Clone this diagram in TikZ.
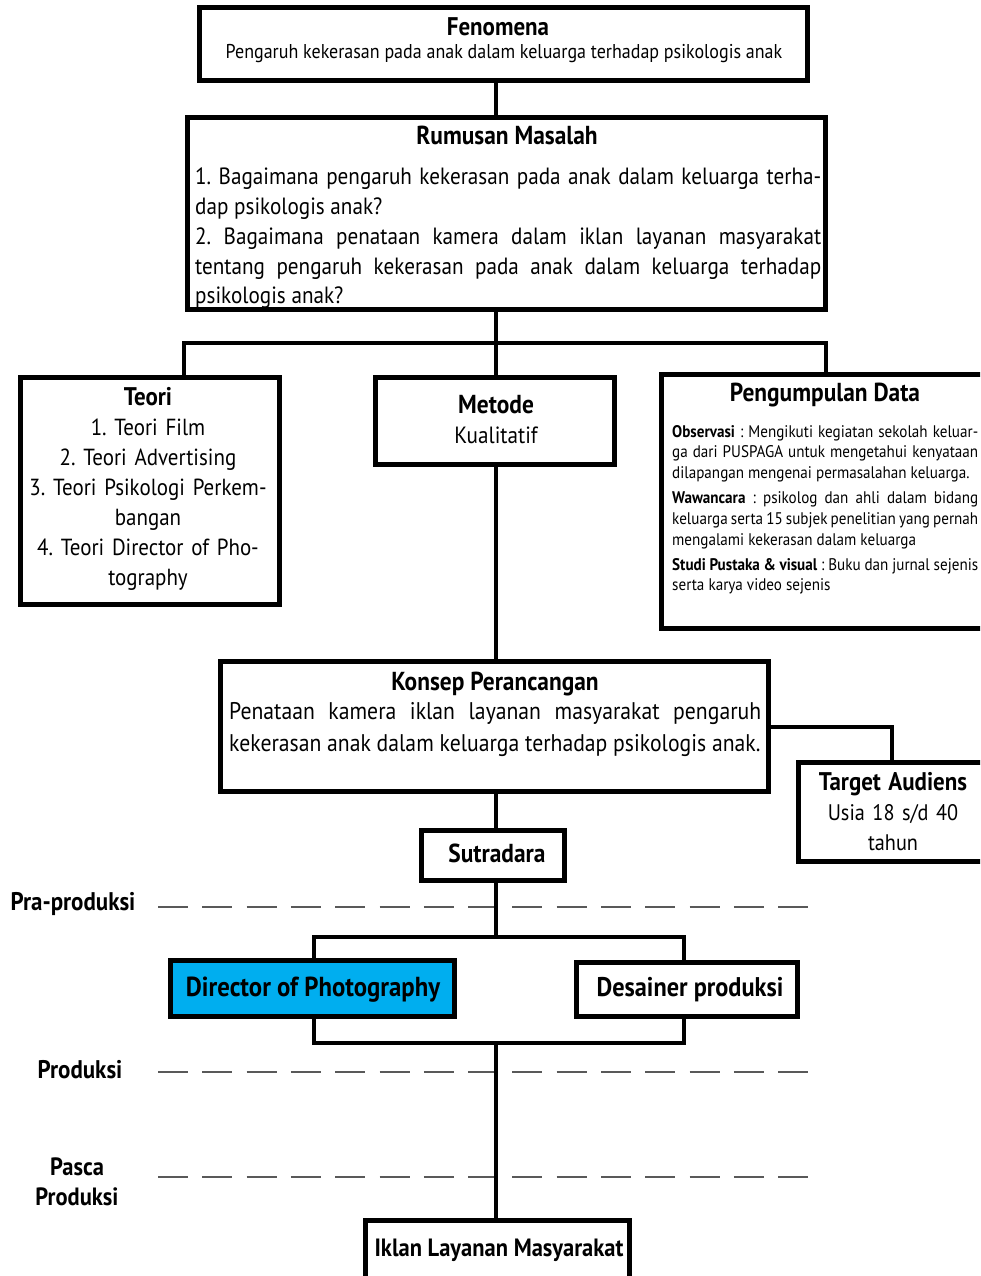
\documentclass[tikz,border=0pt]{standalone}
\usepackage{fontspec}
\setmainfont{PT Sans}[FakeStretch=0.9]
\newcommand\fsz[2]{\fontsize{#1}{#2}\selectfont}
\definecolor{dopblue}{HTML}{00AEEF}
\begin{document}
\frenchspacing
\begin{tikzpicture}[x=1pt,y=-1pt,
  box/.style={draw=black, line width=5pt, fill=white, rectangle, inner sep=0pt},
  conn/.style={line width=4pt, draw=black},
  phase/.style={draw=black!65, line width=2.5pt, dash pattern=on 30pt off 14.3pt},
  txt/.style={inner sep=0pt, anchor=base},
  para/.style={inner sep=0pt, anchor=base west, align=justify},
  ttl/.style={txt, font=\bfseries\fsz{26}{30}},
]
\clip (0,0) rectangle (980,1276);
\hyphenpenalty=10000
\hfuzz=20pt
% phase lines
\draw[phase] (158,907) -- (808,907);
\draw[phase] (158,1072) -- (808,1072);
\draw[phase] (158,1177) -- (808,1177);
\node[txt, font=\bfseries\fsz{25.5}{30}] (lpra) at (73,910) {Pra-produksi};
\node[txt, font=\bfseries\fsz{25.5}{30}] (lprod) at (80,1078) {Produksi};
\node[txt, font=\bfseries\fsz{25}{30}, text width=120pt, align=center] (lpasca) at (77,1175) {Pasca\\Produksi};

% boxes
\node[box, minimum width=608pt, minimum height=73pt] (fen) at (503.5,44) {};
\node[box, minimum width=638pt, minimum height=192pt] (rum) at (506.5,213.5) {};
\node[box, minimum width=259pt, minimum height=227pt] (teori) at (150,491) {};
\node[box, minimum width=239pt, minimum height=87pt] (metode) at (495,421) {};
\node[box, minimum width=334pt, minimum height=254pt] (peng) at (828.5,501.5) {};
\node[box, minimum width=548pt, minimum height=130pt] (konsep) at (494.5,726.5) {};
\node[box, minimum width=197pt, minimum height=99pt] (target) at (897,812) {};
\node[box, minimum width=143pt, minimum height=50pt] (sutradara) at (493,855.5) {};
\node[box, fill=dopblue, minimum width=284pt, minimum height=56pt] (dop) at (312.5,988.5) {};
\node[box, minimum width=221pt, minimum height=54pt] (des) at (687,989.5) {};
\node[box, minimum width=264pt, minimum height=69pt] (iklan) at (497.5,1255) {};

% connector coordinates
\coordinate (sp) at (496,0);
\coordinate (tx) at (184,0);
\coordinate (px) at (826,0);
\coordinate (tgx) at (892,0);
\coordinate (dx) at (314,0);
\coordinate (ex) at (684,0);
\coordinate (bar) at (496,343);
\coordinate (bar2) at (496,937);
\coordinate (bar3) at (496,1043);

\draw[conn] (fen.south -| sp) -- (rum.north -| sp);
\draw[conn] (rum.south -| sp) -- (bar);
\draw[conn] (teori.north -| tx) |- (bar) -| (peng.north -| px);
\draw[conn] (bar) -- (metode.north -| sp);
\draw[conn] (metode.south -| sp) -- (konsep.north -| sp);
\draw[conn] (konsep.east) -| (target.north -| tgx);
\draw[conn] (konsep.south -| sp) -- (sutradara.north -| sp);
\draw[conn] (sutradara.south -| sp) -- (bar2);
\draw[conn] (dop.north -| dx) |- (bar2) -| (des.north -| ex);
\draw[conn] (dop.south -| dx) |- (bar3) -| (des.south -| ex);
\draw[conn] (bar3) -- (iklan.north -| sp);

% texts
\node[ttl, font=\bfseries\fsz{25.5}{30}] (fenT) at (498,36) {Fenomena};
\node[txt, font=\fsz{20}{24}] (fenB) at (504,59) {Pengaruh kekerasan pada anak dalam keluarga terhadap psikologis anak};

\node[ttl] (rumT) at (507,145) {Rumusan Masalah};
\node[para, text width=626pt, font=\fsz{23.5}{29.75}] (rumB) at (195,185)
 {1. Bagaimana pengaruh kekerasan pada anak dalam keluarga terha-\linebreak dap psikologis anak?\par
  2. Bagaimana penataan kamera dalam iklan layanan masyarakat\linebreak tentang pengaruh kekerasan pada anak dalam keluarga terhadap\linebreak psikologis anak?};

\node[txt, text width=255pt, align=center, font=\fsz{23.3}{30}] (teoriT) at (148,405)
 {\textbf{\fsz{25.5}{30}Teori}\\1. Teori Film\\2. Teori Advertising\\3. Teori Psikologi Perkem-\\bangan\\4. Teori Director of Pho-\\tography};

\node[txt, text width=230pt, align=center, font=\fsz{23.5}{30}] (metodeT) at (496,413)
 {\textbf{\fsz{26}{30}Metode}\\Kualitatif};

\node[ttl] (pengT) at (825,401) {Pengumpulan Data};
\node[para, text width=306pt, font=\fsz{16.8}{20.7}] (pengB) at (672,437)
 {\textbf{Observasi} : Mengikuti kegiatan sekolah keluar-\linebreak ga dari PUSPAGA untuk mengetahui kenyataan\linebreak dilapangan mengenai permasalahan keluarga.\par\vspace{4.5pt}
  \textbf{Wawancara} : psikolog dan ahli dalam bidang\linebreak keluarga serta 15 subjek penelitian yang pernah\linebreak mengalami kekerasan dalam keluarga\par\vspace{4.5pt}
  \textbf{Studi Pustaka \& visual} : Buku dan jurnal sejenis\linebreak serta karya video sejenis};

\node[ttl] (konsepT) at (495,690) {Konsep Perancangan};
\node[para, text width=532pt, font=\fsz{24.1}{32}] (konsepB) at (229,719)
 {Penataan kamera iklan layanan masyarakat pengaruh\linebreak kekerasan anak dalam keluarga terhadap psikologis anak.};

\node[txt, text width=185pt, align=center, font=\fsz{22.5}{30}] (targetT) at (893,790)
 {\textbf{\fsz{25.5}{30}Target Audiens}\\Usia 18 s/d 40\\tahun};

\node[ttl] (sutT) at (497,862) {Sutradara};
\node[txt, font=\bfseries\fsz{27.5}{30}] (dopT) at (313,996) {Director of Photography};
\node[txt, font=\bfseries\fsz{27}{30}] (desT) at (690,996) {Desainer produksi};
\node[txt, font=\bfseries\fsz{25}{30}] (iklanT) at (499,1256) {Iklan Layanan Masyarakat};
\end{tikzpicture}
\end{document}
